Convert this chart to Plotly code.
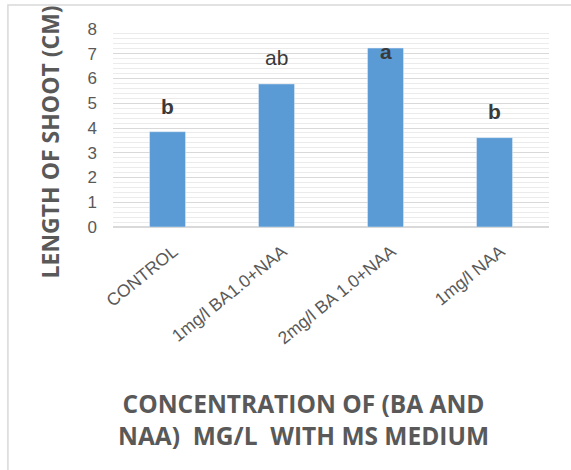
import plotly.graph_objects as go

categories = ["CONTROL", "1mg/l BA1.0+NAA", "2mg/l BA 1.0+NAA", "1mg/l NAA"]
shoot_length = [3.85, 5.78, 7.23, 3.61]
letters = ["b", "ab", "a", "b"]
letter_y = [4.85, 6.86, 7.08, 4.65]
letter_bold = [True, False, True, True]
y_ticks = [0, 1, 2, 3, 4, 5, 6, 7, 8]

fig = go.Figure()
fig.add_trace(go.Bar(
    x=categories, y=shoot_length, marker_color="#5b9bd5", width=0.33,
    hoverinfo="x+y"
))

for c, t, yv, b in zip(categories, letters, letter_y, letter_bold):
    fig.add_annotation(
        x=c, y=yv, xref="x", yref="y", showarrow=False,
        text=f"<b>{t}</b>" if b else t,
        font=dict(family="Liberation Sans", size=21, color="#3a3a3a"),
    )

fig.add_annotation(
    xref="paper", yref="paper", x=-0.1032, y=0.427, xanchor="right", yanchor="middle",
    text="<b>LENGTH OF SHOOT (CM)</b>", textangle=-90, showarrow=False,
    font=dict(family="Open Sans", size=23, color="#595959"),
)
fig.add_annotation(
    xref="paper", yref="paper", x=0.438, y=-0.97, xanchor="center", yanchor="middle",
    text="<b>CONCENTRATION OF (BA AND<br>NAA)&nbsp;&nbsp;MG/L&nbsp;&nbsp;WITH MS MEDIUM</b>",
    showarrow=False,
    font=dict(family="Open Sans", size=24.5, color="#595959"),
)

fig.add_shape(type="rect", xref="paper", yref="paper",
              x0=-0.241, x1=1.3, y0=-1.4, y1=1.121,
              line=dict(color="#d9d9d9", width=1.5), layer="below")

fig.update_layout(
    width=571, height=470,
    margin=dict(l=113, r=22, t=29, b=243),
    paper_bgcolor="white", plot_bgcolor="white",
    showlegend=False,
)
fig.update_xaxes(
    tickangle=-39, showgrid=False, showline=False, ticks="", automargin=False,
    ticklabelstandoff=10, ticklabelshift=6,
    tickfont=dict(family="Liberation Sans", size=17.5, color="#595959"),
)
fig.update_yaxes(
    range=[0, 8], tickvals=y_ticks, showline=False, ticks="", automargin=False,
    ticklabelstandoff=15,
    gridcolor="#d9d9d9", gridwidth=1, zeroline=True, zerolinecolor="#d9d9d9",
    minor=dict(dtick=0.2, showgrid=True, gridcolor="#ebebeb", gridwidth=1),
    tickfont=dict(family="Liberation Sans", size=17, color="#595959"),
)

fig.write_html("out.html", config={"displayModeBar": False},
               post_script="document.body.style.margin='0px';")
